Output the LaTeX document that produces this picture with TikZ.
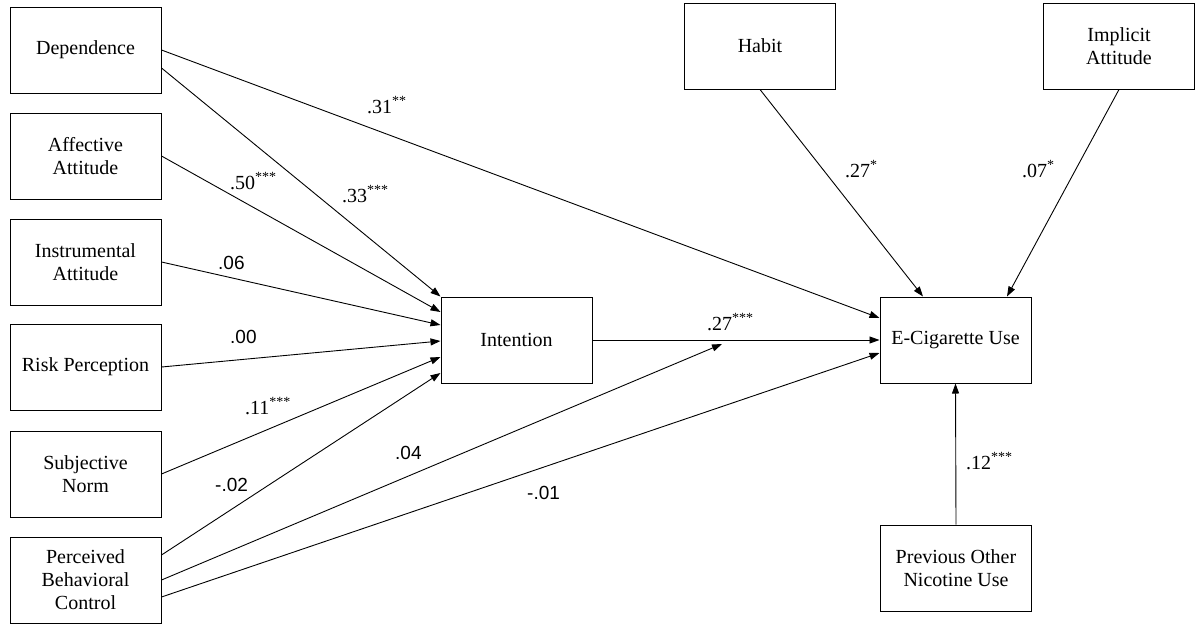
\documentclass[tikz,border=0pt]{standalone}
\usepackage{fontspec}
\setmainfont{Liberation Serif}
\newfontfamily\arialf{Liberation Sans}
\usetikzlibrary{arrows.meta}
\begin{document}
\begin{tikzpicture}[x=1pt,y=-1pt,
  box/.style={draw,line width=1pt,minimum width=151pt,minimum height=86pt,align=center,inner sep=0pt,font=\fontsize{20}{23}\selectfont},
  arr/.style={line width=0.9pt,-{Triangle[length=10pt,width=7pt]}},
  lab/.style={anchor=base west,inner sep=0pt,font=\fontsize{20}{23}\selectfont},
  labs/.style={anchor=base west,inner sep=0pt,font=\fontsize{19}{23}\arialf}]
\useasboundingbox (0,0) rectangle (1200,630);
\node[box] (dep) at (85.5,50) {Dependence};
\node[box] (aff) at (85.5,156) {Affective\\Attitude};
\node[box] (ins) at (85.5,262) {Instrumental\\Attitude};
\node[box] (risk) at (85.5,367) {Risk Perception};
\node[box] (subj) at (85.5,474) {Subjective\\Norm};
\node[box] (pbc) at (85.5,580) {Perceived\\Behavioral\\Control};
\node[box] (int) at (516.5,340) {Intention};
\node[box] (ecig) at (955.5,340) {E-Cigarette Use};
\node[box] (habit) at (760,46) {Habit};
\node[box] (impl) at (1119,46) {Implicit\\Attitude};
\node[box] (prev) at (956,568) {Previous Other\\Nicotine Use};
\coordinate (mid) at (722,344);
% connectors
\draw[arr] (dep.east) -- ([yshift=22pt]ecig.west);
\draw[arr] ([yshift=-18pt]dep.east) -- (int.north west);
\draw[arr] (aff.east) -- ([yshift=28pt]int.west);
\draw[arr] (ins.east) -- ([yshift=15pt]int.west);
\draw[arr] (risk.east) -- ([yshift=-1pt]int.west);
\draw[arr] (subj.east) -- ([yshift=-17pt]int.west);
\draw[arr] ([yshift=25pt]pbc.east) -- ([yshift=-33pt]int.west);
\draw[arr] (pbc.east) -- (mid);
\draw[arr] ([yshift=-17pt]pbc.east) -- ([yshift=-13pt]ecig.west);
\draw[arr] (int.east) -- (ecig.west);
\draw[arr] (habit.south) -- ([xshift=-32.5pt]ecig.north);
\draw[arr] (impl.south) -- ([xshift=51.5pt]ecig.north);
\draw[arr] (prev.north) -- (ecig.south);
% labels
\node[lab] (l1) at (367,113) {.31\textsuperscript{**}};
\node[lab] (l2) at (230,189) {.50\textsuperscript{***}};
\node[lab] (l3) at (342,202) {.33\textsuperscript{***}};
\node[labs] (l4) at (218,269) {.06};
\node[labs] (l5) at (230,343) {.00};
\node[lab] (l6) at (245,414) {.11\textsuperscript{***}};
\node[labs] (l7) at (215,491) {-.02};
\node[labs] (l8) at (395,459) {.04};
\node[labs] (l9) at (527,499) {-.01};
\node[lab] (l10) at (707,330) {.27\textsuperscript{***}};
\node[lab] (l11) at (845,177) {.27\textsuperscript{*}};
\node[lab] (l12) at (1022,177) {.07\textsuperscript{*}};
\node[lab] (l13) at (966,469) {.12\textsuperscript{***}};
\end{tikzpicture}
\end{document}
